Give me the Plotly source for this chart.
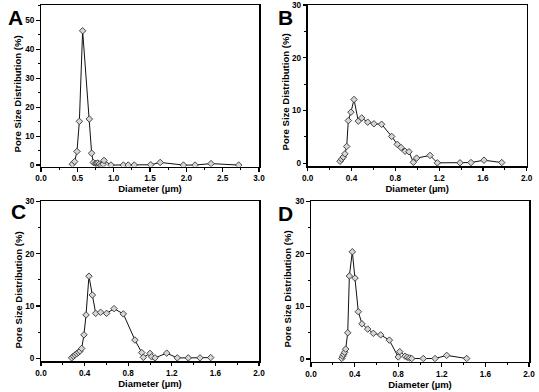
import plotly.graph_objects as go

# ---- data ----
a_x = [0.431, 0.463, 0.495, 0.528, 0.573, 0.665, 0.697, 0.72, 0.748, 0.765, 0.78, 0.803, 0.83, 0.855, 0.867,
       0.963, 1.133, 1.2, 1.284, 1.51, 1.64, 1.96, 2.12, 2.34, 2.72]
a_y = [0.3, 1.2, 4.7, 15.1, 46.4, 15.9, 4.1, 0.9, 0.55, 0.6, 0.7, 0.35, 0.1, 0.3, 1.6,
       0.0, 0.0, 0.0, 0.0, 0.1, 0.9, 0.0, 0.0, 0.5, 0.0]

b_x = [0.295, 0.31, 0.325, 0.34, 0.356, 0.371, 0.395, 0.423, 0.462, 0.493, 0.548, 0.605, 0.675, 0.767, 0.818,
       0.852, 0.889, 0.925, 0.965, 0.995, 1.117, 1.184, 1.391, 1.491, 1.61, 1.772]
b_y = [0.4, 0.8, 1.2, 1.8, 3.2, 8.1, 9.7, 12.1, 8.0, 8.6, 7.8, 7.5, 7.4, 5.1, 3.6,
       3.0, 2.3, 2.2, 0.2, 1.0, 1.5, 0.1, 0.1, 0.15, 0.6, 0.15]

c_x = [0.281, 0.297, 0.312, 0.327, 0.343, 0.358, 0.373, 0.394, 0.413, 0.44, 0.471, 0.502, 0.547, 0.602, 0.67,
       0.755, 0.862, 0.924, 0.939, 1.0, 1.015, 1.046, 1.153, 1.25, 1.351, 1.459, 1.557]
c_y = [0.1, 0.4, 0.65, 0.9, 1.15, 1.4, 1.9, 4.5, 8.3, 15.7, 12.1, 8.6, 8.8, 8.6, 9.5,
       8.5, 3.5, 1.1, 0.2, 0.95, 0.3, 0.1, 1.0, 0.1, 0.1, 0.1, 0.15]

d_x = [0.282, 0.291, 0.30, 0.309, 0.318, 0.337, 0.352, 0.379, 0.404, 0.434, 0.468, 0.52, 0.572, 0.639, 0.719,
       0.80, 0.814, 0.863, 0.884, 0.905, 0.924, 1.03, 1.138, 1.245, 1.428]
d_y = [0.1, 0.55, 0.9, 1.3, 1.9, 5.0, 15.8, 20.4, 15.4, 9.0, 6.7, 5.7, 4.9, 4.6, 3.6,
       0.4, 1.4, 0.55, 0.35, 0.2, 0.1, 0.1, 0.1, 0.7, 0.1]

panel_labels = ["A", "B", "C", "D"]
x_title = "Diameter (µm)"
y_title = "Pore Size Distribution (%)"

W, H = 539, 392

def px_x(p):
    return p / W

def px_y(p):
    return 1 - p / H

panels = [
    dict(x=a_x, y=a_y, xd=[41, 259], yd=[166.5, 5], xr=[0, 3.0], yr=[-0.5, 55.3], xdt=0.5, xmin=0.25, ydt=10, ymin=5,
         lab=(6, 4), yt=(16.5, 94)),
    dict(x=b_x, y=b_y, xd=[307.7, 526.7], yd=[166, 5], xr=[0, 2.0], yr=[-0.5, 30], xdt=0.4, xmin=0.2, ydt=10, ymin=5,
         lab=(276, 4), yt=(285, 92.5)),
    dict(x=c_x, y=c_y, xd=[41, 259], yd=[361, 201.3], xr=[0, 2.0], yr=[-0.5, 30], xdt=0.4, xmin=0.2, ydt=10, ymin=5,
         lab=(9, 198), yt=(18, 290.5)),
    dict(x=d_x, y=d_y, xd=[311, 529], yd=[361.7, 201.3], xr=[0, 2.0], yr=[-0.5, 30], xdt=0.4, xmin=0.2, ydt=10, ymin=5,
         lab=(276, 200), yt=(287, 289.5)),
]

FONT = "Liberation Sans, Arial, sans-serif"
fig = go.Figure()
layout = {}
annotations = []
for i, p in enumerate(panels):
    n = "" if i == 0 else str(i + 1)
    fig.add_trace(go.Scatter(
        x=p["x"], y=p["y"], mode="lines+markers",
        xaxis="x" + n, yaxis="y" + n,
        line=dict(color="#111111", width=1),
        marker=dict(symbol="diamond", size=5, color="#d6d6d6", line=dict(color="#333333", width=0.9)),
        showlegend=False, hoverinfo="skip",
    ))
    common = dict(showline=True, linecolor="black", linewidth=1.5, mirror=True, showgrid=False, zeroline=False,
                  automargin=False,
                  ticks="outside", ticklen=3.5, tickwidth=1.2, tickcolor="black",
                  tickfont=dict(family=FONT, size=8.2, color="black", weight="bold"))
    layout["xaxis" + n] = dict(
        domain=[px_x(p["xd"][0]), px_x(p["xd"][1])], range=p["xr"], anchor="y" + n,
        tick0=0, dtick=p["xdt"], tickformat=".1f",
        minor=dict(ticks="outside", ticklen=2, tickwidth=1, tickcolor="black", dtick=p["xmin"], tick0=0),
        title=dict(text=x_title, font=dict(family=FONT, size=9.5, color="black", weight="bold"), standoff=3),
        **common)
    layout["yaxis" + n] = dict(
        domain=[px_y(p["yd"][0]), px_y(p["yd"][1])], range=p["yr"], anchor="x" + n,
        tick0=0, dtick=p["ydt"],
        minor=dict(ticks="outside", ticklen=2, tickwidth=1, tickcolor="black", dtick=p["ymin"], tick0=0),
        **common)
    annotations.append(dict(
        text=y_title, x=px_x(p["yt"][0]), y=px_y(p["yt"][1]), xref="paper", yref="paper",
        xanchor="center", yanchor="middle", textangle=-90, showarrow=False,
        font=dict(family=FONT, size=9.6, color="black", weight="bold")))
    annotations.append(dict(
        text=panel_labels[i], x=px_x(p["lab"][0]), y=px_y(p["lab"][1]), xref="paper", yref="paper",
        xanchor="left", yanchor="top", showarrow=False,
        font=dict(family=FONT, size=21, color="black", weight="bold")))

fig.update_layout(**layout)
fig.update_layout(
    width=W, height=H, margin=dict(l=0, r=0, t=0, b=0),
    paper_bgcolor="white", plot_bgcolor="white",
    annotations=annotations,
)
fig.write_html("out.html", config={"displayModeBar": False, "staticPlot": True},
               post_script="document.body.style.margin='0';document.body.style.overflow='hidden';")
